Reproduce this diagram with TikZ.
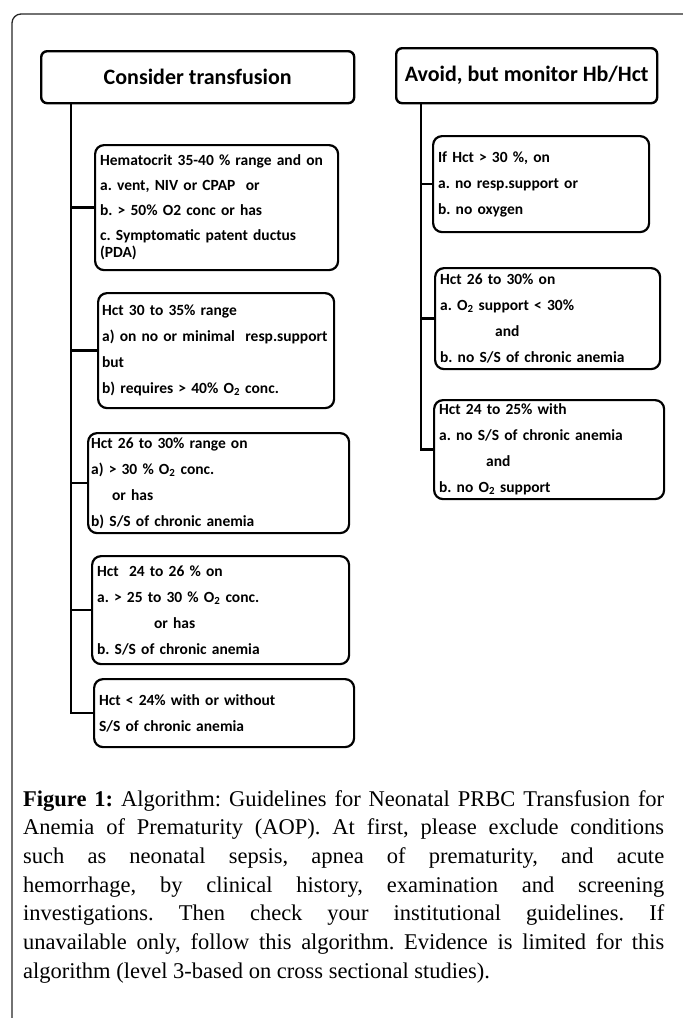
\documentclass[tikz,border=0pt]{standalone}
\usepackage{fontspec}
\setmainfont{Liberation Serif}
\newfontfamily\calfont{Carlito}
\newcommand{\twig}[2]{\draw[stem] (#1 |- #2.west) -- (#2.west);}
\newcommand{\Otwo}{O\textsubscript{2}}

\begin{document}
\frenchspacing
\begin{tikzpicture}[x=1pt, y=-1pt,
  frame/.style={draw=black!85, line width=1.3pt, rounded corners=9pt},
  headbox/.style={draw, line width=2.4pt, rounded corners=6pt, inner sep=0pt,
    anchor=north west, align=center, font={\calfont\bfseries\fontsize{22}{26}\selectfont}},
  critbox/.style={draw, line width=2.2pt, rounded corners=9pt, inner xsep=5pt,
    inner ysep=0pt, anchor=north west, align=left,
    font={\calfont\bfseries\fontsize{15.5}{26}\selectfont}},
  capbox/.style={anchor=north west, inner sep=0pt, text width=641pt, align=justify,
    font={\fontsize{22.5}{28.7}\selectfont}},
  stem/.style={line width=2.6pt}]
  \useasboundingbox (0,0) rectangle (683,1018);
  \draw[frame] (12,1018) -- (12,14) -- (683,14);

  % Headings
  % --------
  \node[headbox, minimum width=313pt, minimum height=52pt] (cons) at (40,50) {Consider transfusion};
  \node[headbox, minimum width=261pt, minimum height=55pt] (avoid) at (395,47) {Avoid, but monitor Hb/Hct};

  % Consider transfusion
  % --------------------
  \node[critbox, text width=233pt, minimum height=125pt,
    font={\calfont\bfseries\fontsize{15.5}{25}\selectfont}] (lb1) at (94,144)
    {Hematocrit 35-40 \% range and on\\a. vent, NIV or CPAP~ or\\b. > 50\% O2 conc or has\\c. Symptomatic patent ductus\\[-8pt](PDA)};
  \node[critbox, inner xsep=4pt, text width=228pt, minimum height=115pt] (lb2) at (97,292)
    {Hct 30 to 35\% range\\a) on no or minimal~ resp.support\\but\\b) requires > 40\% \Otwo{} conc.};
  \node[critbox, inner xsep=3pt, text width=255pt, minimum height=100pt] (lb3) at (87,432)
    {Hct 26 to 30\% range on\\a) > 30 \% \Otwo{} conc.\\\hspace*{21pt}or has\\b) S/S of chronic anemia};
  \node[critbox, text width=247pt, minimum height=108pt] (lb4) at (91,555)
    {Hct~ 24 to 26 \% on\\a. > 25 to 30 \% \Otwo{} conc.\\\hspace*{57pt}or has\\b. S/S of chronic anemia};
  \node[critbox, text width=250pt, minimum height=68pt] (lb5) at (93,678)
    {Hct < 24\% with or without\\S/S of chronic anemia};

  % Avoid, but monitor
  % ------------------
  \node[critbox, text width=206pt, minimum height=96pt] (rb1) at (432,135)
    {If Hct > 30 \%, on\\a. no resp.support or\\b. no oxygen};
  \node[critbox, text width=215pt, minimum height=101pt] (rb2) at (434,267)
    {Hct 26 to 30\% on\\a. \Otwo{} support < 30\%\\\hspace*{55pt}and\\b. no S/S of chronic anemia};
  \node[critbox, text width=220pt, minimum height=99pt] (rb3) at (433,399)
    {Hct 24 to 25\% with\\a. no S/S of chronic anemia\\\hspace*{47pt}and\\b. no \Otwo{} support};

  % Trunks
  % ------
  \coordinate (ltop) at (71,102);
  \coordinate (rtop) at (421,102);
  \draw[stem] (ltop) |- (lb5.west);
  \foreach \b in {lb1, lb2, lb3, lb4}
  \twig{ltop}{\b};
  \draw[stem] (rtop) |- (rb3.west);
  \foreach \b in {rb1, rb2}
  \twig{rtop}{\b};

  % Caption
  % -------
  \node[capbox] (capt) at (23,790)
    {\textbf{Figure 1:} Algorithm: Guidelines for Neonatal PRBC Transfusion for\linebreak
     Anemia of Prematurity (AOP). At first, please exclude conditions\linebreak
     such as neonatal sepsis, apnea of prematurity, and acute\linebreak
     hemorrhage, by clinical history, examination and screening\linebreak
     investigations. Then check your institutional guidelines. If\linebreak
     unavailable only, follow this algorithm. Evidence is limited for this\linebreak
     algorithm (level 3-based on cross sectional studies).};
\end{tikzpicture}
\end{document}
